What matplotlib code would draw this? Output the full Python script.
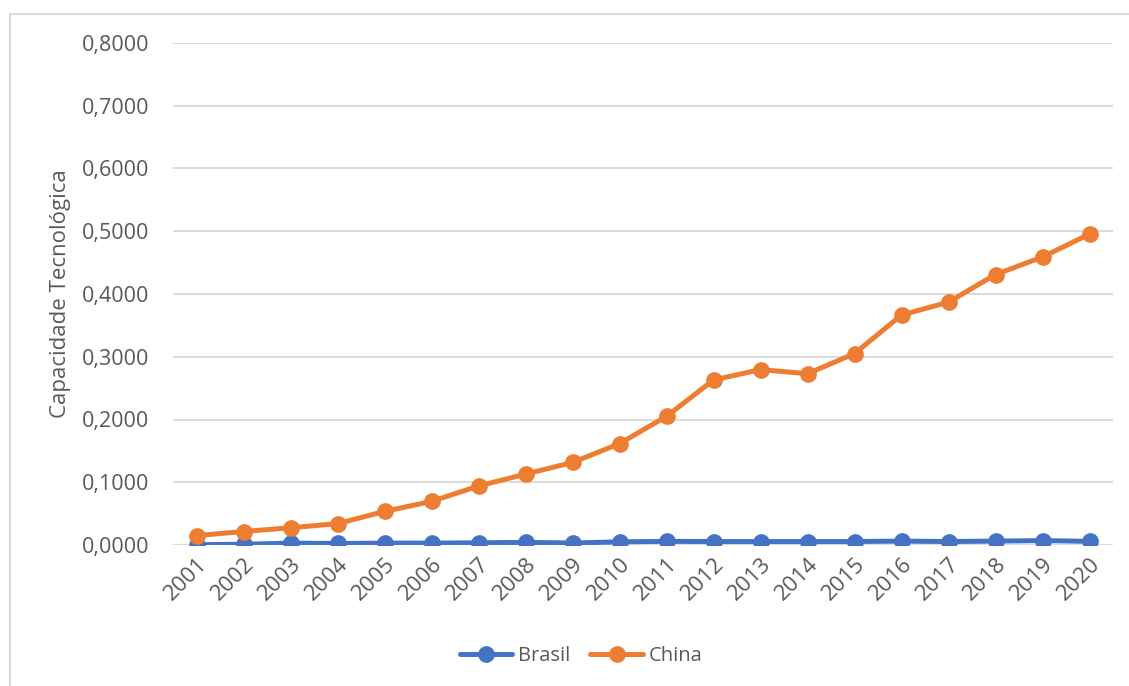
import matplotlib.pyplot as plt
from matplotlib.ticker import FuncFormatter
from matplotlib.patches import Rectangle

# Data
years = [str(y) for y in range(2001, 2021)]
brasil = [0.0005, 0.0012, 0.0030, 0.0024, 0.0030, 0.0030, 0.0035, 0.0042, 0.0032, 0.0050,
          0.0058, 0.0055, 0.0055, 0.0055, 0.0055, 0.0062, 0.0055, 0.0062, 0.0070, 0.0058]
china = [0.0150, 0.0215, 0.0275, 0.0340, 0.0535, 0.0695, 0.0940, 0.1130, 0.1315, 0.1615,
         0.2050, 0.2630, 0.2795, 0.2730, 0.3050, 0.3665, 0.3870, 0.4310, 0.4590, 0.4955]

blue = '#4472C4'
orange = '#ED7D31'
text_color = '#595959'
grid_color = '#D9D9D9'

plt.rcParams['font.family'] = ['Open Sans', 'DejaVu Sans']

fig = plt.figure(figsize=(11.29, 6.86), dpi=100)
ax = fig.add_axes([173 / 1129, 1 - 545 / 686, 940 / 1129, 502 / 686])

x = list(range(1, len(years) + 1))
ax.plot(x, brasil, color=blue, lw=3.6, marker='o', ms=11, label='Brasil', zorder=3,
        solid_capstyle='round')
ax.plot(x, china, color=orange, lw=3.6, marker='o', ms=11, label='China', zorder=3,
        solid_capstyle='round')

ax.set_xlim(0.5, len(years) + 0.5)
ax.set_ylim(0, 0.8)
ax.set_yticks([i / 10 for i in range(9)])
ax.yaxis.set_major_formatter(FuncFormatter(lambda v, p: f'{v:.4f}'.replace('.', ',')))
ax.set_xticks(x)
ax.set_xticklabels(years, rotation=45, ha='right', rotation_mode='anchor')

ax.grid(axis='y', color=grid_color, lw=1.3)
ax.set_axisbelow(True)
for s in ax.spines.values():
    s.set_visible(False)
ax.tick_params(length=0, colors=text_color)
ax.tick_params(axis='y', pad=17, labelsize=15.5)
ax.tick_params(axis='x', pad=6, labelsize=16)

ax.set_ylabel('Capacidade Tecnológica', fontsize=16, color=text_color, va='center')
ax.yaxis.set_label_coords(-0.12, 0.5)

leg = fig.legend(loc='center', bbox_to_anchor=(581 / 1129, 1 - 656 / 686), ncol=2,
                 frameon=False, fontsize=14.5, handlelength=2.6, columnspacing=1.0,
                 handletextpad=0.3)
for t in leg.get_texts():
    t.set_color(text_color)

# light chart border (top and left visible, the rest runs off the image)
fig.patches.append(Rectangle((9.5 / 1129, -0.1), 1.2, 1 - 13.5 / 686 + 0.1,
                             transform=fig.transFigure, fill=False,
                             edgecolor=grid_color, lw=1.5))

fig.savefig('out.png', dpi=100)
